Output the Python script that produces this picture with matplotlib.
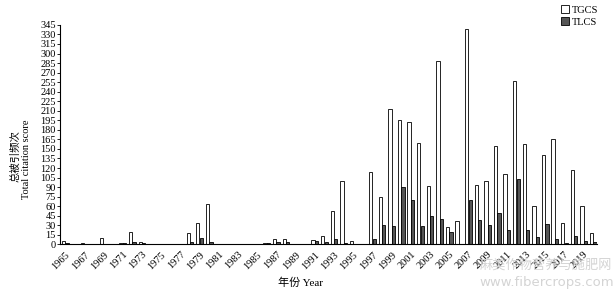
import matplotlib
import matplotlib.pyplot as plt
import numpy as np

matplotlib.use("Agg")

# years on the x axis
years = list(range(1965, 2021))

# TGCS values per year
tgcs = [6, 0, 2, 0, 10, 0, 2, 20, 3, 0,
        0, 0, 0, 18, 34, 63, 0, 0, 0, 0,
        0, 2, 9, 8, 0, 0, 7, 13, 53, 100,
        5, 0, 113, 74, 213, 195, 193, 160, 91, 288,
        27, 36, 338, 94, 99, 155, 110, 257, 157, 60,
        140, 165, 34, 117, 61, 18]

# TLCS values per year
tlcs = [2, 0, 0, 0, 0, 0, 2, 3, 2, 0,
        0, 0, 0, 3, 10, 3, 0, 0, 0, 0,
        0, 2, 3, 3, 0, 0, 5, 3, 8, 2,
        0, 0, 9, 30, 29, 90, 70, 29, 44, 40,
        19, 1, 70, 39, 31, 50, 22, 103, 23, 11,
        32, 9, 2, 13, 6, 3]

tick_years = list(range(1965, 2020, 2))
y_ticks = list(range(0, 346, 15))

plt.rcParams["font.family"] = ["Liberation Serif", "Noto Sans CJK SC"]

fig = plt.figure(figsize=(6.14, 2.93), dpi=100)
ax = fig.add_axes([0.098, 0.166, 0.874, 0.749])

x = np.arange(len(years))
w = 0.34
ax.bar(x - 0.18, tgcs, width=w, color="white", edgecolor="black", linewidth=0.6,
       label="TGCS")
ax.bar(x + 0.18, tlcs, width=w, color="#555555", edgecolor="black", linewidth=0.6,
       label="TLCS")

ax.set_xlim(-0.52, len(years) - 1 + 0.37)
ax.set_ylim(0, 345)
ax.set_yticks(y_ticks)
ax.tick_params(axis="y", labelsize=7.5, length=2, width=0.6, pad=1)

tick_pos = [years.index(yr) for yr in tick_years]
ax.set_xticks(tick_pos)
ax.set_xticklabels([str(yr) for yr in tick_years], rotation=45, ha="right",
                   rotation_mode="anchor", fontsize=7.5)
ax.tick_params(axis="x", length=0, pad=4)

for side in ["top", "right"]:
    ax.spines[side].set_visible(False)
for side in ["left", "bottom"]:
    ax.spines[side].set_linewidth(0.8)

# axis titles
fig.text(0.026, 0.467, "总被引频次", rotation=90, ha="center", va="center", fontsize=7.5)
fig.text(0.043, 0.455, "Total citation score", rotation=90, ha="center", va="center",
         fontsize=7.5)
fig.text(0.49, 0.035, "年份 Year", ha="center", va="center", fontsize=8)

fig.legend(loc="upper right", bbox_to_anchor=(0.99, 1.015), frameon=False,
           fontsize=7.5, handlelength=0.8, handleheight=0.8, handletextpad=0.3,
           labelspacing=0.25)

# watermark
fig.text(0.89, 0.095, "麻类作物营养与施肥网", ha="center", va="center", fontsize=9.5,
         color="#d4d4d4", family=["Noto Sans CJK SC"])
fig.text(0.89, 0.035, "www.fibercrops.com", ha="center", va="center", fontsize=9.5,
         color="#d4d4d4", family=["DejaVu Sans"])

fig.savefig("out.png", dpi=100)
